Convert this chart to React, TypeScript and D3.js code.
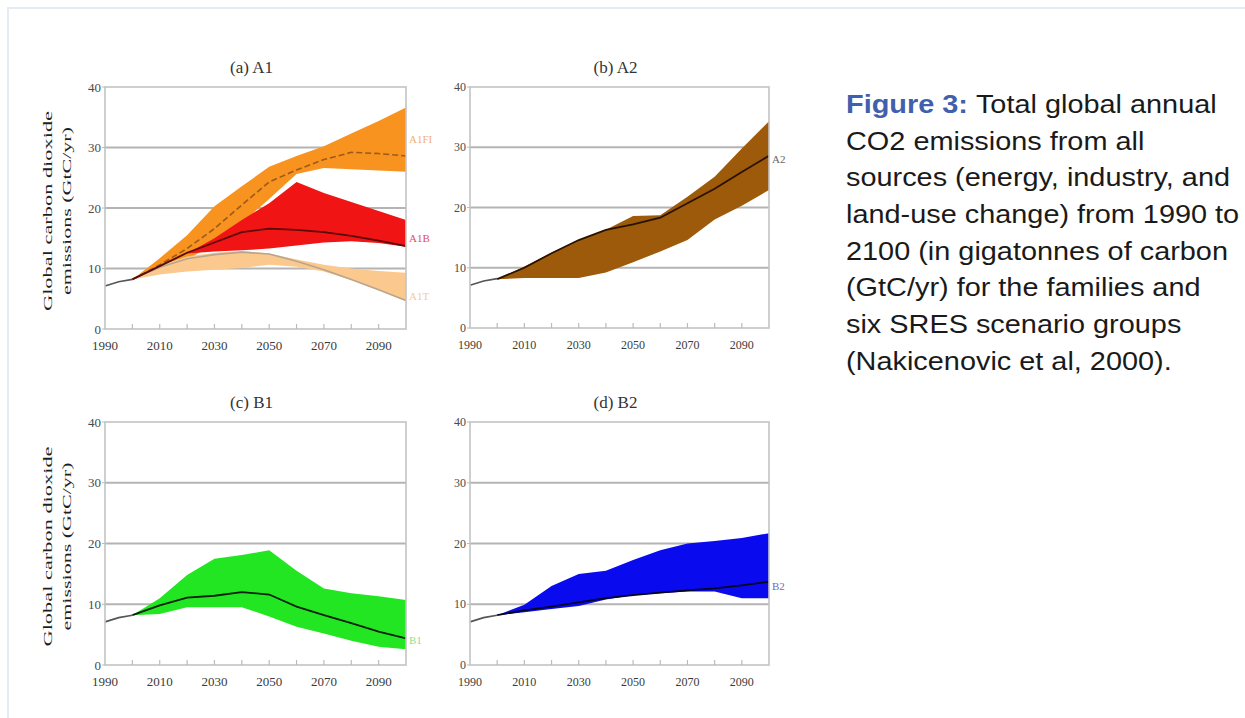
import React from 'react';
import * as d3 from 'd3';

// scenario years (bands + marker lines)
const YEARS = [2000, 2010, 2020, 2030, 2040, 2050, 2060, 2070, 2080, 2090, 2100];
const HIST_YEARS = [1990, 1995, 2000];
const HIST_VALUES = [7.1, 7.8, 8.2];

const Y_TICKS = [0, 10, 20, 30, 40];
const X_TICKS = [1990, 2000, 2010, 2020, 2030, 2040, 2050, 2060, 2070, 2080, 2090, 2100];
const X_LABELS = [1990, 2010, 2030, 2050, 2070, 2090];

// (a) A1
const A1FI_HIGH = [8.2, 11.7, 15.5, 20.3, 23.6, 26.8, 28.6, 30.2, 32.3, 34.4, 36.6];
const A1FI_LOW = [8.2, 9.5, 11.5, 14.0, 17.5, 21.5, 25.6, 26.6, 26.4, 26.2, 26.0];
const A1FI_MARKER = [8.2, 10.6, 13.3, 16.6, 20.5, 24.3, 26.3, 28.0, 29.2, 29.0, 28.6];
const A1T_HIGH = [8.2, 10.5, 12.0, 12.6, 12.9, 12.5, 11.5, 10.6, 10.0, 9.6, 9.3];
const A1T_LOW = [8.2, 9.0, 9.5, 9.8, 10.1, 10.6, 10.3, 9.5, 8.1, 6.4, 4.6];
const A1T_MARKER = [8.2, 10.2, 11.6, 12.3, 12.7, 12.4, 11.2, 9.8, 8.2, 6.5, 4.7];
const A1B_HIGH = [null, null, 12.5, 15.0, 18.0, 20.8, 24.3, 22.5, 21.0, 19.5, 18.0];
const A1B_LOW = [null, null, 12.5, 12.8, 13.0, 13.3, 13.8, 14.3, 14.5, 14.2, 13.6];
const A1B_MARKER = [8.2, 10.4, 12.6, 14.3, 16.0, 16.6, 16.4, 16.0, 15.4, 14.6, 13.7];

// (b) A2
const A2_HIGH = [8.1, 10.2, 12.5, 14.6, 16.3, 18.6, 18.7, 21.8, 25.1, 29.8, 34.3];
const A2_LOW = [8.1, 8.3, 8.3, 8.3, 9.2, 10.9, 12.7, 14.6, 18.0, 20.3, 22.9];
const A2_MARKER = [8.1, 10.0, 12.4, 14.6, 16.3, 17.2, 18.3, 20.7, 23.1, 25.9, 28.6];

// (c) B1
const B1_HIGH = [8.2, 11.0, 14.8, 17.5, 18.1, 18.9, 15.5, 12.6, 11.8, 11.3, 10.7];
const B1_LOW = [8.2, 8.4, 9.5, 9.5, 9.5, 8.0, 6.3, 5.2, 4.0, 3.0, 2.6];
const B1_MARKER = [8.2, 9.8, 11.1, 11.4, 12.0, 11.6, 9.6, 8.2, 6.9, 5.5, 4.4];

// (d) B2
const B2_HIGH = [8.2, 9.9, 13.0, 15.0, 15.5, 17.3, 18.9, 20.0, 20.4, 20.9, 21.7];
const B2_LOW = [8.2, 8.7, 9.2, 9.7, 10.8, 11.5, 11.8, 12.1, 12.1, 11.0, 11.0];
const B2_MARKER = [8.2, 9.0, 9.6, 10.3, 11.0, 11.5, 11.9, 12.3, 12.6, 13.1, 13.7];

const CAPTION_LINES = [
  'Total global annual',
  'CO2 emissions from all',
  'sources (energy, industry, and',
  'land-use change) from 1990 to',
  '2100 (in gigatonnes of carbon',
  '(GtC/yr) for the families and',
  'six SRES scenario groups',
  '(Nakicenovic et al, 2000).',
];

type Band = { low: (number | null)[]; high: (number | null)[]; fill: string };
type Line = { values: number[]; stroke: string; dash?: string; width?: number };
type Tag = { text: string; value: number; fill: string };

const PANELS = [
  {
    title: '(a) A1',
    box: { x0: 105, x1: 406, y0: 87, y1: 329 },
    yLabel: true,
    bands: [
      { low: A1FI_LOW, high: A1FI_HIGH, fill: '#f7931e' },
      { low: A1T_LOW, high: A1T_HIGH, fill: '#fbc98e' },
      { low: A1B_LOW, high: A1B_HIGH, fill: '#f01414' },
    ] as Band[],
    lines: [
      { values: A1T_MARKER, stroke: '#b9a58e', width: 1.6 },
      { values: A1FI_MARKER, stroke: '#9a5a1c', dash: '6,3', width: 1.6 },
      { values: A1B_MARKER, stroke: '#5a0a0a', width: 1.8 },
    ] as Line[],
    tags: [
      { text: 'A1FI', value: 31.4, fill: '#f0b07a' },
      { text: 'A1B', value: 15.0, fill: '#e0505e' },
      { text: 'A1T', value: 5.4, fill: '#f5c99c' },
    ] as Tag[],
  },
  {
    title: '(b) A2',
    box: { x0: 470, x1: 769, y0: 87, y1: 328 },
    yLabel: false,
    bands: [{ low: A2_LOW, high: A2_HIGH, fill: '#9c5a0a' }] as Band[],
    lines: [{ values: A2_MARKER, stroke: '#2a1200', width: 1.8 }] as Line[],
    tags: [{ text: 'A2', value: 28.1, fill: '#666' }] as Tag[],
  },
  {
    title: '(c) B1',
    box: { x0: 105, x1: 406, y0: 422, y1: 665 },
    yLabel: true,
    bands: [{ low: B1_LOW, high: B1_HIGH, fill: '#22e622' }] as Band[],
    lines: [{ values: B1_MARKER, stroke: '#0a200a', width: 1.8 }] as Line[],
    tags: [{ text: 'B1', value: 4.1, fill: '#8fe08f' }] as Tag[],
  },
  {
    title: '(d) B2',
    box: { x0: 470, x1: 769, y0: 422, y1: 665 },
    yLabel: false,
    bands: [{ low: B2_LOW, high: B2_HIGH, fill: '#0a0aee' }] as Band[],
    lines: [{ values: B2_MARKER, stroke: '#050520', width: 1.8 }] as Line[],
    tags: [{ text: 'B2', value: 12.9, fill: '#6a6ac0' }] as Tag[],
  },
];

const SERIF = '"Liberation Serif", "DejaVu Serif", serif';
const SANS = '"Liberation Sans", Arial, sans-serif';

function Panel({ p }: { p: (typeof PANELS)[number] }) {
  const { x0, x1, y0, y1 } = p.box;
  const x = d3.scaleLinear().domain([1990, 2100]).range([x0, x1]);
  const y = d3.scaleLinear().domain([0, 40]).range([y1, y0]);
  const small = !p.yLabel;
  const tickFont = small ? 12 : 13;

  const area = (b: Band) =>
    d3
      .area<number>()
      .defined((_, i) => b.low[i] != null && b.high[i] != null)
      .x((d) => x(d))
      .y0((_, i) => y(b.low[i] as number))
      .y1((_, i) => y(b.high[i] as number))(YEARS);

  const line = (vals: number[], yrs: number[]) =>
    d3
      .line<number>()
      .x((d) => x(d))
      .y((_, i) => y(vals[i]))(yrs);

  const cy = (y0 + y1) / 2;

  return (
    <g>
      <text
        x={(x0 + x1) / 2 - 4}
        y={y0 - 14}
        textAnchor="middle"
        fontFamily={SERIF}
        fontSize={17}
        fill="#333"
      >
        {p.title}
      </text>

      {/* grid */}
      {Y_TICKS.filter((t) => t > 0 && t < 40).map((t) => (
        <line key={t} x1={x0} x2={x1} y1={y(t)} y2={y(t)} stroke="#b4b4b4" strokeWidth={2.2} />
      ))}

      {p.bands.map((b, i) => (
        <path key={i} d={area(b) || ''} fill={b.fill} />
      ))}

      <path d={line(HIST_VALUES, HIST_YEARS) || ''} fill="none" stroke="#555" strokeWidth={1.6} />
      {p.lines.map((l, i) => (
        <path
          key={i}
          d={line(l.values, YEARS) || ''}
          fill="none"
          stroke={l.stroke}
          strokeWidth={l.width ?? 1.6}
          strokeDasharray={l.dash}
        />
      ))}

      {/* frame */}
      <rect x={x0} y={y0} width={x1 - x0} height={y1 - y0} fill="none" stroke="#c4c4c4" strokeWidth={1.6} />

      {/* x ticks */}
      {X_TICKS.slice(1, -1).map((t) => (
        <line key={t} x1={x(t)} x2={x(t)} y1={y1} y2={y1 - 5} stroke="#bbb" strokeWidth={1.2} />
      ))}
      {X_LABELS.map((t) => (
        <text
          key={t}
          x={x(t)}
          y={y1 + 21}
          textAnchor="middle"
          fontFamily={SERIF}
          fontSize={tickFont}
          fill="#3a3a3a"
        >
          {t}
        </text>
      ))}

      {/* y ticks */}
      {Y_TICKS.map((t) => (
        <g key={t}>
          <line x1={x0 - 3} x2={x0} y1={y(t)} y2={y(t)} stroke="#bbb" strokeWidth={1} />
          <text
            x={x0 - 4}
            y={y(t)}
            dy="0.35em"
            textAnchor="end"
            fontFamily={SERIF}
            fontSize={tickFont}
            fill="#4a4a4a"
          >
            {t}
          </text>
        </g>
      ))}

      {p.tags.map((t) => (
        <text
          key={t.text}
          x={x1 + 3}
          y={y(t.value)}
          dy="0.35em"
          fontFamily={SERIF}
          fontSize={11}
          fill={t.fill}
        >
          {t.text}
        </text>
      ))}

      {p.yLabel && (
        <g fontFamily={SERIF} fontSize={13} fill="#1e1e1e" textAnchor="middle">
          <text
            transform={`translate(47,${cy + 3}) rotate(-90)`}
            dy="0.35em"
            textLength={200}
            lengthAdjust="spacingAndGlyphs"
          >
            Global carbon dioxide
          </text>
          <text
            transform={`translate(66,${cy + 3}) rotate(-90)`}
            dy="0.35em"
            textLength={168}
            lengthAdjust="spacingAndGlyphs"
          >
            emissions (GtC/yr)
          </text>
        </g>
      )}
    </g>
  );
}

export default function App() {
  return (
    <svg
      width={1245}
      height={718}
      style={{ position: 'absolute', left: 0, top: 0, background: '#fff' }}
    >
      <path d="M8,718 V8 H1245" fill="none" stroke="#e4ebf4" strokeWidth={2} />

      {PANELS.map((p) => (
        <Panel key={p.title} p={p} />
      ))}

      <g transform="translate(846,0) scale(1.155,1)" fontFamily={SANS} fontSize={25} fill="#1a1a1a">
        {CAPTION_LINES.map((l, i) => (
          <text key={i} x={0} y={113 + i * 36.7}>
            {i === 0 && (
              <tspan fontWeight="bold" fill="#4060ac">
                {'Figure 3: '}
              </tspan>
            )}
            {l}
          </text>
        ))}
      </g>
    </svg>
  );
}
